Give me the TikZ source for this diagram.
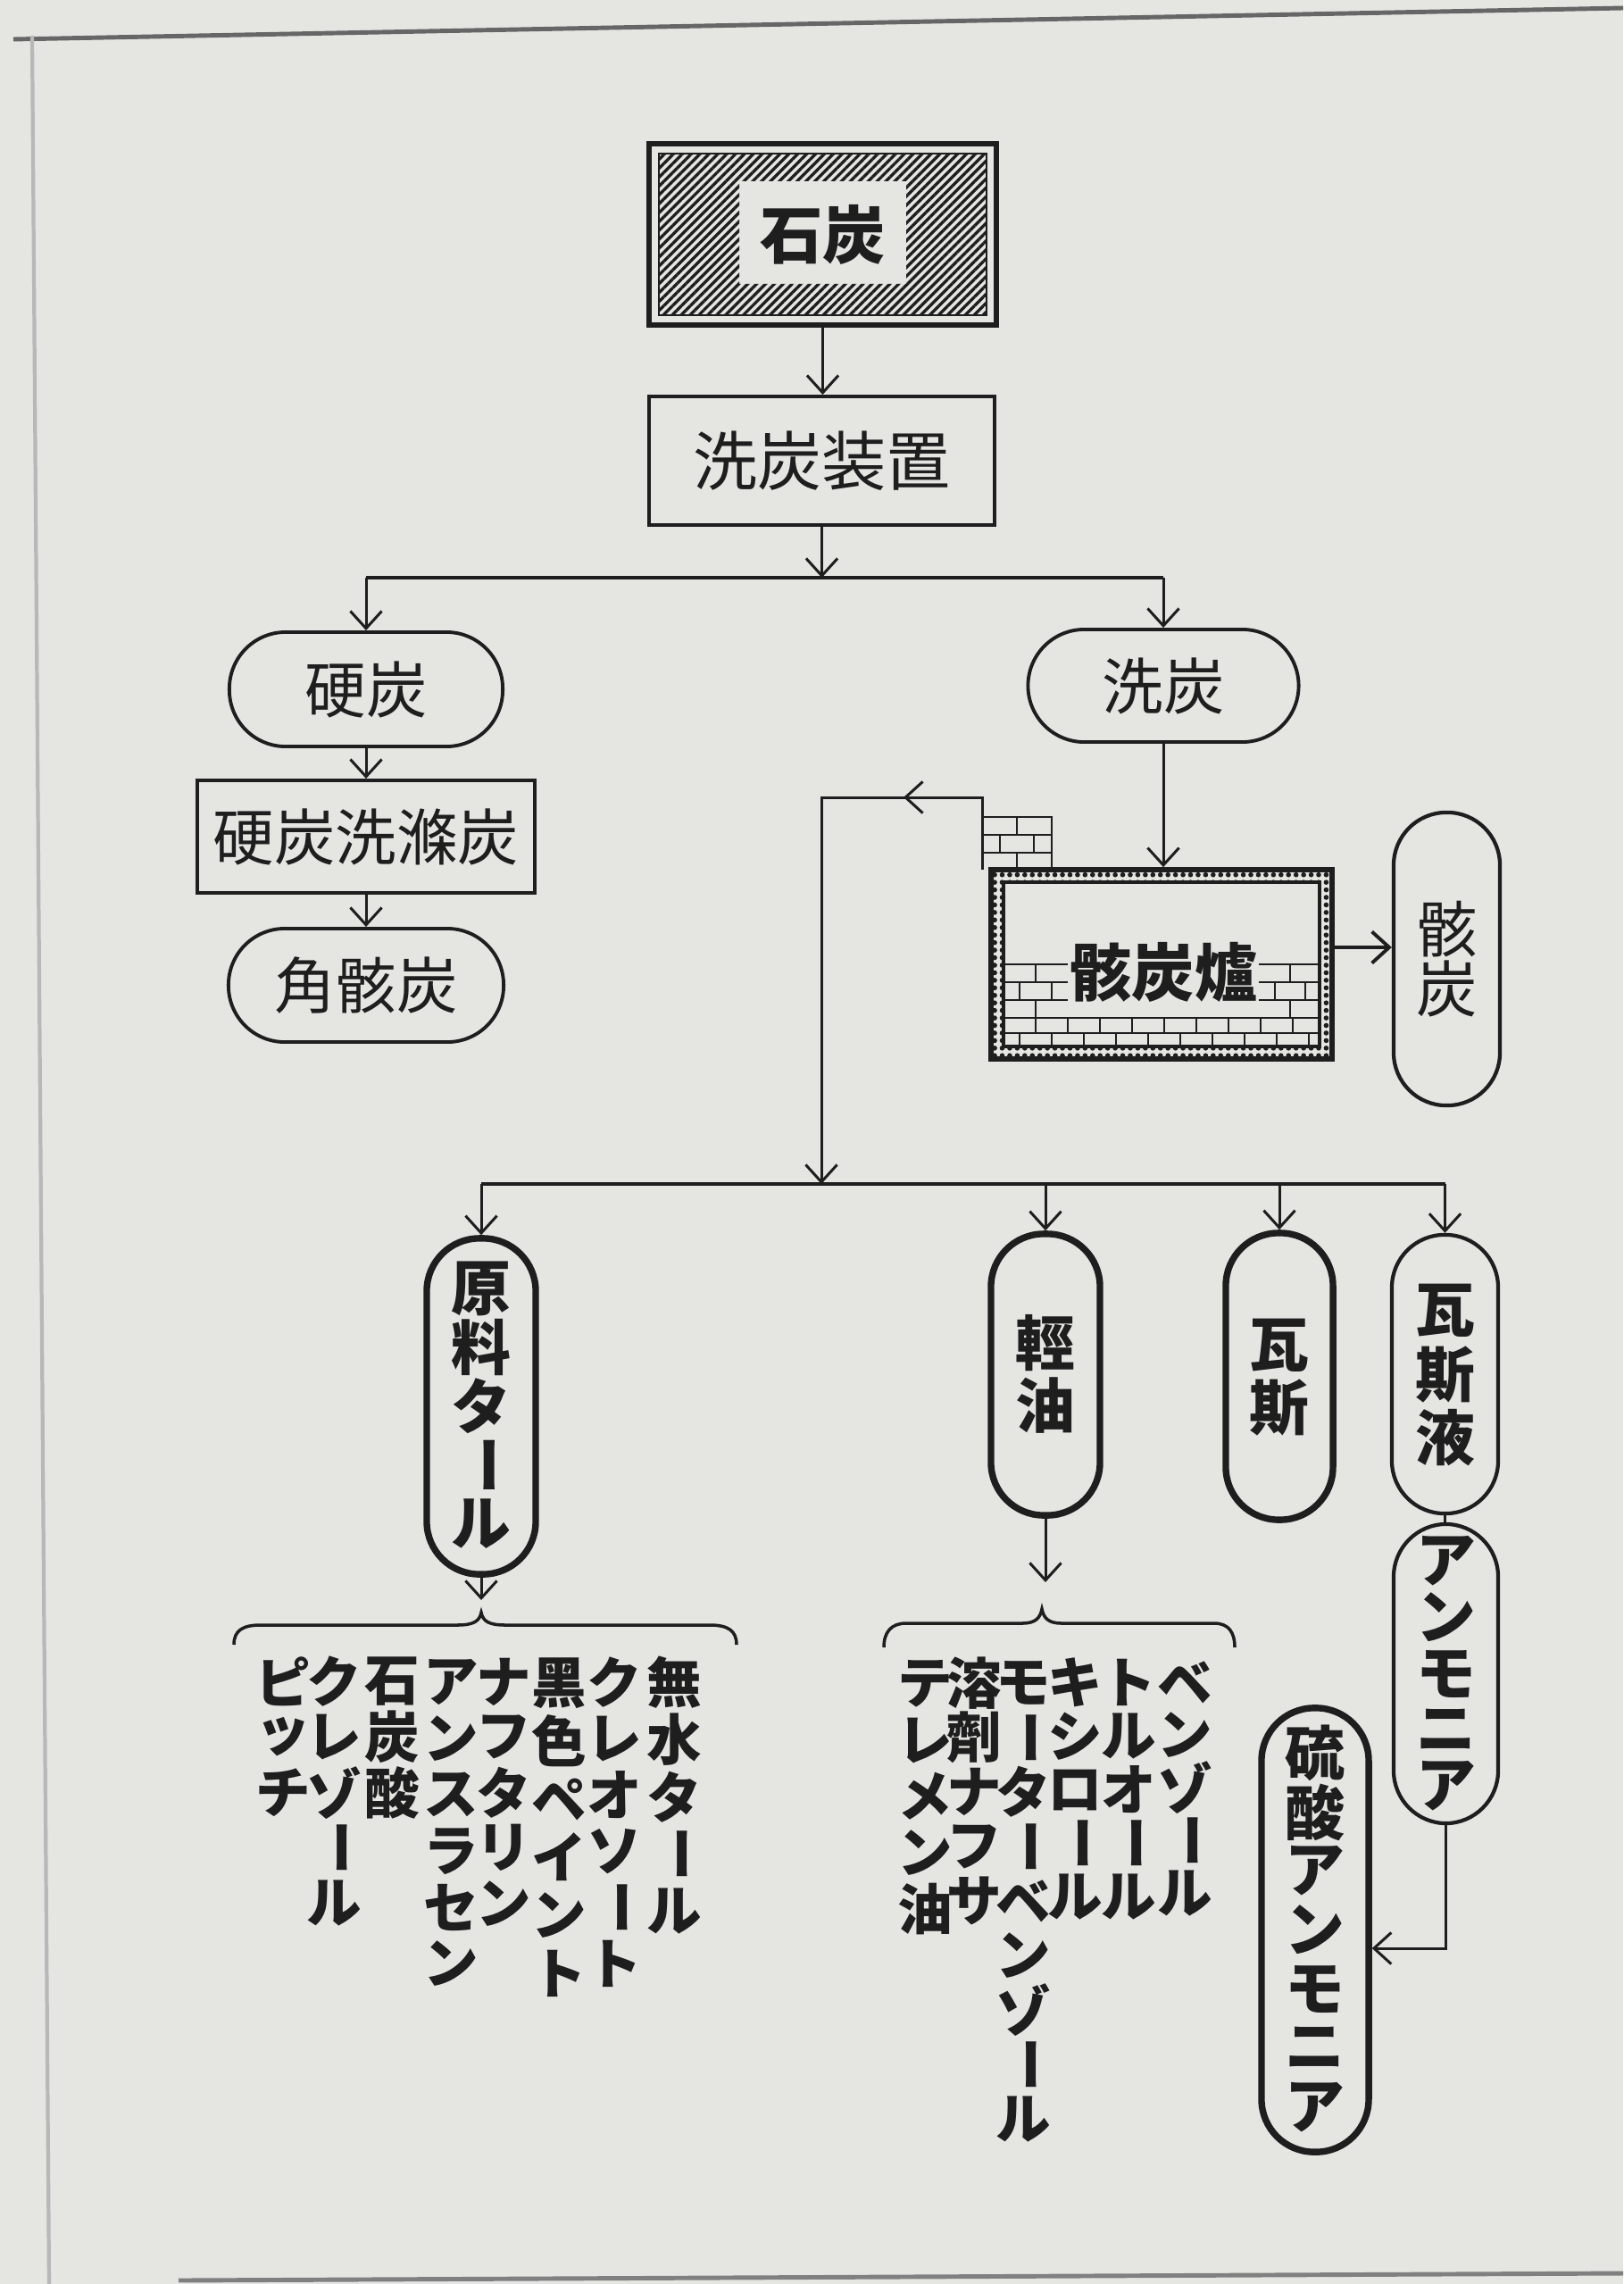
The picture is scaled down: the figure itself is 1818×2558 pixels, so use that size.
\documentclass[tikz,border=0pt]{standalone}
\usepackage{fontspec}
\usepackage{graphicx}
\usetikzlibrary{arrows.meta,patterns.meta}
\newfontfamily\cjk{Noto Sans CJK JP}
\definecolor{bg}{RGB}{229,229,226}
\definecolor{ink}{RGB}{30,30,30}
\newlength\vpitch
\makeatletter
\def\vstk@end{\vstk@endmark}
\newcommand\vstk[2]{\setlength\vpitch{#1}\vbox{\offinterlineskip\vstk@i#2\vstk@end}}
\def\vstk@i#1{\ifx\vstk@end#1\expandafter\@gobble\else\expandafter\@firstofone\fi{\vstk@box{#1}\vstk@i}}
\def\vstk@box#1{\vbox to \vpitch{\vss\hbox to 1em{\hss\vstk@ch{#1}\hss}\vss}}
\def\vstk@ch#1{\ifx ー#1\rotatebox[origin=c]{-90}{ー}\else #1\fi}
\makeatother
\begin{document}
\begin{tikzpicture}[x=0.01cm,y=-0.01cm,color=ink,line width=0.85pt,
  arr/.style={-{Straight Barb[length=5.5pt,width=10pt]}},
  lbl/.style={font=\cjk\fontsize{19.5pt}{22pt}\selectfont},
  bl/.style={font=\cjk\bfseries\fontsize{20pt}{24pt}\selectfont},
  rbox/.style={draw, line width=1.1pt, inner sep=0pt},
  hpill/.style={draw, line width=1.1pt, rounded corners=0.63cm, inner sep=0pt},
  vpill/.style={draw, line width=1.2pt, rounded corners=0.59cm, inner sep=0pt, font=\cjk\bfseries\fontsize{19pt}{22pt}\selectfont},
  heavy/.style={line width=2.1pt},
  listtxt/.style={anchor=north, inner sep=0pt, font=\cjk\bfseries\fontsize{17.5pt}{20pt}\selectfont},
  brick/.style={line width=0.6pt}]
\fill[bg] (0,0) rectangle (1818,2558);
\useasboundingbox (0,0) rectangle (1818,2558);
% page frame
\draw[black!60, line width=1.4pt] (15,44) -- (1818,9);
\draw[black!28, line width=1.2pt] (36,40) -- (55,2558);
\draw[black!50, line width=1.4pt] (200,2554) -- (1818,2546);
% coal box
\fill[pattern={Lines[angle=45,distance=2pt,line width=0.95pt]}, pattern color=ink, even odd rule]
  (738,172) rectangle (1105,353) (828,203) rectangle (1015,318);
\draw[line width=0.6pt] (738,172) rectangle (1105,353);
\node[rbox, line width=1.5pt, minimum width=3.89cm, minimum height=2.03cm, bl] (coal) at (921.5,262.5) {石炭};
\node[rbox, minimum width=3.87cm, minimum height=1.44cm, lbl, font=\cjk\fontsize{20.5pt}{22pt}\selectfont] (wash) at (920.5,516) {洗炭装置};
\draw[arr] (coal.south) -- (coal.south |- wash.north);
\coordinate (br1) at (921,647);
\draw[arr] (wash.south) -- (wash.south |- br1);
\node[hpill, minimum width=3.06cm, minimum height=1.28cm, lbl] (hard) at (410,772) {硬炭};
\node[hpill, minimum width=3.03cm, minimum height=1.26cm, lbl] (washed) at (1303,768) {洗炭};
\draw[line width=1pt] (hard |- br1) -- (washed |- br1);
\draw[arr] (hard |- br1) -- (hard.north);
\draw[arr] (washed |- br1) -- (washed.north);
\node[rbox, minimum width=3.77cm, minimum height=1.26cm, lbl] (hardwash) at (410,937) {硬炭洗滌炭};
\node[hpill, minimum width=3.08cm, minimum height=1.27cm, lbl] (kaku) at (410,1103.5) {角骸炭};
\draw[arr] (hard.south) -- (hardwash.north);
\draw[arr] (hardwash.south) -- (kaku.north);
% coke oven
\fill[pattern={Dots[distance=2.4pt,radius=0.8pt]}, pattern color=ink, even odd rule]
  (1110,974) rectangle (1492,1186) (1124,988) rectangle (1478,1172);
\draw[line width=0.9pt] (1124,988) rectangle (1478,1172);
\node[rbox, line width=1.6pt, minimum width=3.82cm, minimum height=2.12cm] (oven) at (1301,1080) {};
\draw[brick] (1124,1080) -- (1196,1080) (1124,1100) -- (1196,1100) (1124,1120) -- (1196,1120)
  (1410,1080) -- (1478,1080) (1410,1100) -- (1478,1100) (1410,1120) -- (1478,1120)
  (1124,1140) -- (1478,1140) (1124,1157) -- (1478,1157)
  (1160,1080) -- (1160,1100) (1445,1080) -- (1445,1100)
  (1142,1100) -- (1142,1120) (1178,1100) -- (1178,1120) (1428,1100) -- (1428,1120) (1462,1100) -- (1462,1120)
  (1160,1120) -- (1160,1140) (1445,1120) -- (1445,1140);
\foreach \bx in {1160,1196,...,1460} \draw[brick] (\bx,1140) -- (\bx,1157);
\foreach \bx in {1142,1178,...,1470} \draw[brick] (\bx,1157) -- (\bx,1172);
\node[bl] (ovenT) at (1303,1089) {骸炭爐};
% chimney
\draw[brick] (1100,915) -- (1178,915) -- (1178,974) (1100,935) -- (1178,935) (1100,955) -- (1178,955)
  (1139,915) -- (1139,935) (1120,935) -- (1120,955) (1158,935) -- (1158,955) (1139,955) -- (1139,974);
\node[vpill, lbl, minimum width=1.19cm, minimum height=3.28cm] (coke) at (1620.5,1074) {\vstk{0.66cm}{骸炭}};
\draw[arr] (washed.south) -- (washed.south |- oven.north);
\coordinate (oc) at (1492,1061);
\draw[arr, line width=1.1pt] (oc -| oven.east) -- (oc -| coke.west);
% gas return
\coordinate (fbA) at (1100,974);
\coordinate (fbB) at (1100,893);
\coordinate (fbC) at (920,893);
\coordinate (fbM) at (1012,893);
\coordinate (br2) at (920,1326);
\draw[arr] (fbA) -- (fbB) -- (fbC) -- (br2);
\draw[arr] (fbB) -- (fbM);
% products
\node[vpill, heavy, minimum width=1.22cm, minimum height=3.76cm] (tar) at (539,1575) {\vstk{0.66cm}{原料タール}};
\node[vpill, heavy, minimum width=1.22cm, minimum height=3.15cm] (light) at (1171,1539.5) {\vstk{0.7cm}{輕油}};
\node[vpill, heavy, minimum width=1.2cm, minimum height=3.21cm] (gas) at (1433,1541.5) {\vstk{0.7cm}{瓦斯}};
\node[vpill, minimum width=1.19cm, minimum height=3.12cm] (liquor) at (1618.5,1539) {\vstk{0.71cm}{瓦斯液}};
\draw[line width=1.2pt] (tar |- br2) -- (liquor |- br2);
\draw[arr] (tar |- br2) -- (tar.north);
\draw[arr] (light |- br2) -- (light.north);
\draw[arr] (gas |- br2) -- (gas.north);
\draw[arr] (liquor |- br2) -- (liquor.north);
\node[vpill, minimum width=1.17cm, minimum height=3.35cm] (ammonia) at (1619.5,1874.5) {\vstk{0.63cm}{アンモニア}};
\draw (liquor.south) -- (liquor.south |- ammonia.north);
\node[vpill, heavy, minimum width=1.2cm, minimum height=4.97cm] (sulfate) at (1473,2161.5) {\vstk{0.66cm}{硫酸アンモニア}};
\coordinate (sj) at (1619,2182);
\draw[arr] (ammonia.south) -- (ammonia.south |- sj) -- (sj -| sulfate.east);
% tar products
\coordinate (tarA) at (539,1792);
\draw[arr] (tar.south) -- (tarA);
\draw[line width=1pt] (262,1842) .. controls (262,1826) and (272,1820) .. (292,1820) -- (512,1820)
  .. controls (530,1820) and (537,1816) .. (539,1806) .. controls (541,1816) and (548,1820) .. (566,1820)
  -- (795,1820) .. controls (815,1820) and (825,1826) .. (825,1842);
\node[listtxt] (t1) at (755,1851) {\vstk{0.64cm}{無水タール}};
\node[listtxt] (t2) at (688,1851) {\vstk{0.63cm}{クレオソート}};
\node[listtxt] (t3) at (626,1851) {\vstk{0.65cm}{黑色ペイント}};
\node[listtxt] (t4) at (564,1851) {\vstk{0.62cm}{ナフタリン}};
\node[listtxt] (t5) at (505,1851) {\vstk{0.63cm}{アンスラセン}};
\node[listtxt] (t6) at (439,1851) {\vstk{0.62cm}{石炭酸}};
\node[listtxt] (t7) at (374,1851) {\vstk{0.62cm}{クレゾール}};
\node[listtxt] (t8) at (317,1851) {\vstk{0.62cm}{ピッチ}};
% light oil products
\coordinate (lightA) at (1171,1772);
\draw[arr] (light.south) -- (lightA);
\draw[line width=1pt] (990,1845) .. controls (990,1828) and (998,1818) .. (1015,1818) -- (1145,1818)
  .. controls (1160,1818) and (1165,1812) .. (1167,1802) .. controls (1169,1812) and (1174,1818) .. (1189,1818)
  -- (1360,1818) .. controls (1376,1818) and (1383,1828) .. (1383,1845);
\node[listtxt] (o1) at (1327,1853) {\vstk{0.59cm}{ベンゾール}};
\node[listtxt] (o2) at (1264,1853) {\vstk{0.6cm}{トルオール}};
\node[listtxt] (o3) at (1204,1853) {\vstk{0.6cm}{キシロール}};
\node[listtxt] (o4) at (1146,1853) {\vstk{0.61cm}{モーターベンゾール}};
\node[listtxt] (o5) at (1091,1853) {\vstk{0.61cm}{溶劑ナフサ}};
\node[listtxt] (o6) at (1036,1853) {\vstk{0.63cm}{テレメン油}};
\end{tikzpicture}
\end{document}
